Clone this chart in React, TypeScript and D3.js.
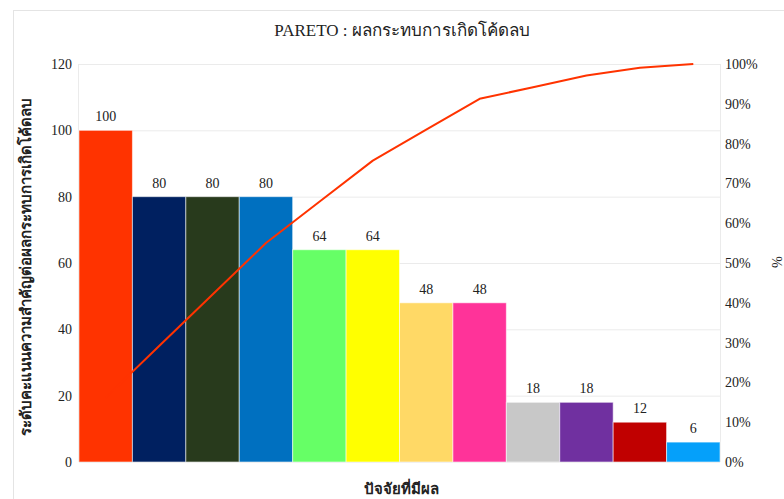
import React from 'react';
import * as d3 from 'd3';

const title = 'PARETO :  ผลกระทบการเกิดโค้ดลบ';
const yTitle = 'ระดับคะแนนความสำคัญต่อผลกระทบการเกิดโค้ดลบ';
const xTitle = 'ปัจจัยที่มีผล';
const y2Title = '%';
const categories = ['F1', 'F2', 'F3', 'F4', 'F5', 'F6', 'F7', 'F8', 'F9', 'F10', 'F11', 'F12'];
const values = [100, 80, 80, 80, 64, 64, 48, 48, 18, 18, 12, 6];
const barColors = ['#FF3300', '#002060', '#283A1C', '#0070C0', '#66FF66', '#FFFF00', '#FFD966', '#FF3399', '#C8C8C8', '#7030A0', '#C00000', '#05A0FA'];
const leftTicks = [0, 20, 40, 60, 80, 100, 120];
const rightTicks = [0, 0.1, 0.2, 0.3, 0.4, 0.5, 0.6, 0.7, 0.8, 0.9, 1];
const lineColor = '#FF3300';

const W = 784;
const H = 499;
const plot = { left: 79, right: 720, top: 64, bottom: 462 };
const FONT = "'Liberation Serif', 'DejaVu Serif', serif";

export default function App() {
  const x = d3.scaleBand<string>().domain(categories).range([plot.left, plot.right]).padding(0);
  const yL = d3.scaleLinear().domain([0, 120]).range([plot.bottom, plot.top]);
  const yR = d3.scaleLinear().domain([0, 1]).range([plot.bottom, plot.top]);
  const total = d3.sum(values);
  const cum = d3.cumsum(values).map((c) => c / total);
  const bw = x.bandwidth();
  const lineGen = d3
    .line<number>()
    .x((_, i) => (x(categories[i]) as number) + bw / 2)
    .y((d) => yR(d));
  const pct = d3.format('.0%');

  return (
    <svg width={W} height={H} style={{ position: 'absolute', left: 0, top: 0, display: 'block', background: '#fff' }} fontFamily={FONT}>
      <rect x={0} y={0} width={W} height={H} fill="#fff" />
      {/* outer chart border */}
      <rect x={13.5} y={10.5} width={W + 20} height={H + 20} fill="none" stroke="#e4e4e4" />
      <text x={402} y={36} textAnchor="middle" fontSize={17} fill="#222">{title}</text>

      {/* gridlines */}
      {leftTicks.map((t) => (
        <line key={'g' + t} x1={plot.left} x2={plot.right} y1={yL(t) + 0.5} y2={yL(t) + 0.5} stroke="#ebebeb" />
      ))}
      <line x1={plot.left - 0.5} x2={plot.left - 0.5} y1={plot.top} y2={plot.bottom} stroke="#ebebeb" />
      <line x1={plot.right + 0.5} x2={plot.right + 0.5} y1={plot.top} y2={plot.bottom} stroke="#ebebeb" />

      {/* bars */}
      {categories.map((c, i) => (
        <rect
          key={c}
          x={x(c) as number}
          y={yL(values[i])}
          width={bw}
          height={plot.bottom - yL(values[i])}
          fill={barColors[i]}
          stroke="#ffffff"
          strokeOpacity={0.55}
          strokeWidth={1}
        />
      ))}

      {/* cumulative line */}
      <path d={lineGen(cum) || ''} fill="none" stroke={lineColor} strokeWidth={2} strokeLinejoin="round" />

      {/* data labels */}
      {categories.map((c, i) => (
        <text key={'l' + c} x={(x(c) as number) + bw / 2} y={yL(values[i]) - 9} textAnchor="middle" fontSize={14} fill="#222">
          {values[i]}
        </text>
      ))}

      {/* left axis */}
      {leftTicks.map((t) => (
        <text key={'yl' + t} x={72} y={yL(t) + 5} textAnchor="end" fontSize={14} fill="#222">{t}</text>
      ))}
      {/* right axis */}
      {rightTicks.map((t) => (
        <text key={'yr' + t} x={725} y={yR(t) + 5} textAnchor="start" fontSize={14} fill="#222">{pct(t)}</text>
      ))}

      <text transform={`translate(31,267) rotate(-90)`} textAnchor="middle" fontSize={15} fontWeight="bold" fill="#222">{yTitle}</text>
      <text x={401} y={494} textAnchor="middle" fontSize={15} fontWeight="bold" fill="#222">{xTitle}</text>
      <text transform={`translate(772,262) rotate(90)`} textAnchor="middle" fontSize={14} fill="#222">{y2Title}</text>
    </svg>
  );
}
